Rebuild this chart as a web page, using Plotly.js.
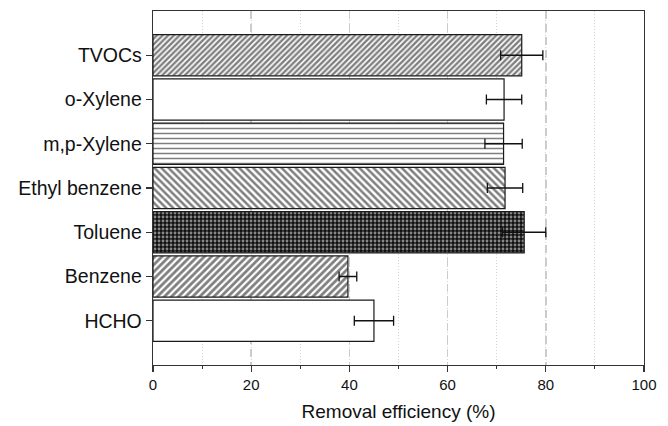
<!DOCTYPE html>
<html>
<head>
<meta charset="utf-8">
<script src="https://cdn.plot.ly/plotly-3.0.1.min.js"></script>
<style>html,body{margin:0;padding:0;background:#fff;}#chart{width:668px;height:426px;}</style>
</head>
<body>
<div id="chart"></div>
<script>
// Categories listed top to bottom
const categories = ['TVOCs', 'o-Xylene', 'm,p-Xylene', 'Ethyl benzene', 'Toluene', 'Benzene', 'HCHO'];
const efficiency = [75.1, 71.5, 71.4, 71.7, 75.6, 39.7, 45.0];
const errors = [4.3, 3.6, 3.8, 3.6, 4.4, 1.8, 4.0];
const patternShapes = ['/', '', '-', '\\', '.', '/', ''];
const patternSizes = [4, 6, 5, 5, 4, 5, 6];
const patternSolidity = [0.6, 0.3, 0.3, 0.5, 0.4, 0.55, 0.3];
const patternFg = ['#000', '#000', '#000', '#000', '#fff', '#000', '#000'];
const patternBg = ['#fff', '#fff', '#fff', '#fff', '#111', '#fff', '#fff'];
const xTicks = [0, 20, 40, 60, 80, 100];

const trace = {
  type: 'bar',
  orientation: 'h',
  y: categories,
  x: efficiency,
  width: 0.93,
  marker: {
    color: '#ffffff',
    line: {color: '#1a1a1a', width: 1.2},
    pattern: {
      shape: patternShapes,
      size: patternSizes,
      solidity: patternSolidity,
      fgcolor: patternFg,
      bgcolor: patternBg,
      fillmode: 'overlay'
    }
  },
  error_x: {type: 'data', array: errors, visible: true, color: '#111111', thickness: 1.3, width: 5},
  hoverinfo: 'none'
};

const layout = {
  width: 668, height: 426,
  margin: {l: 153, r: 24, t: 11, b: 61, pad: 0},
  paper_bgcolor: '#ffffff',
  plot_bgcolor: '#ffffff',
  showlegend: false,
  font: {family: 'Liberation Sans, Arial, sans-serif', color: '#000'},
  xaxis: {
    range: [0, 100],
    tickvals: xTicks,
    ticktext: xTicks.map(String),
    ticks: 'outside', ticklen: 6, tickwidth: 1.3, tickcolor: '#333',
    tickfont: {size: 15, color: '#111'},
    showline: true, linecolor: '#333', linewidth: 1.3, mirror: true,
    showgrid: true, gridcolor: '#cccccc', gridwidth: 1.6, griddash: '8px,5px',
    zeroline: false,
    minor: {dtick: 10, tick0: 0, ticks: 'outside', ticklen: 3, tickcolor: '#333', tickwidth: 1,
            showgrid: true, gridcolor: '#d4d4d4', gridwidth: 1, griddash: '1px,2px'},
    title: {text: 'Removal efficiency (%)', font: {size: 19, color: '#111'}, standoff: 12},
    fixedrange: true
  },
  yaxis: {
    type: 'category',
    range: [7, -1],
    ticks: 'outside', ticklen: 6, tickwidth: 1.3, tickcolor: '#333',
    tickfont: {size: 19.5, color: '#111'},
    showline: true, linecolor: '#333', linewidth: 1.3, mirror: true,
    showgrid: false, zeroline: false,
    fixedrange: true
  }
};

Plotly.newPlot('chart', [trace], layout, {displayModeBar: false, staticPlot: true});
</script>
</body>
</html>
